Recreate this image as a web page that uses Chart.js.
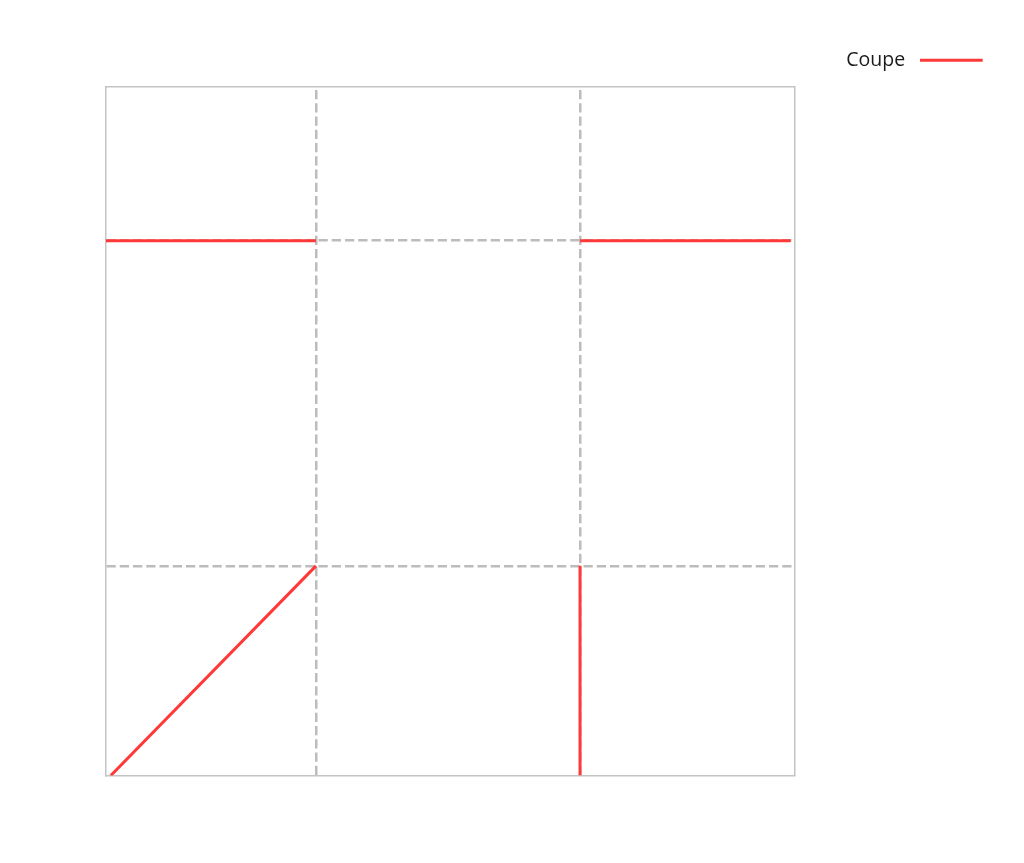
<!DOCTYPE html>
<html>
<head>
<meta charset="utf-8">
<title>Coupe</title>
<script src="https://cdn.jsdelivr.net/npm/chart.js@4.4.1/dist/chart.umd.min.js"></script>
<style>
  html, body { margin: 0; padding: 0; background: #fff; overflow: hidden; }
  canvas { display: block; }
</style>
</head>
<body>
<canvas id="myChart" width="1024" height="863"></canvas>
<script>
// section outline, segments split by nulls
const seriesName = 'Coupe';
const xValues = [0.7, 30.5, null, 0, 30.5, null, 68.85, 99.45, null, 68.85, 68.85];
const yValues = [0, 30.43, null, 77.63, 77.63, null, 77.63, 77.63, null, 30.43, 0];

// where the dashed guide lines sit
const xGridValues = [30.5, 68.85];
const yGridValues = [30.43, 77.63];

const FRAME = 'rgb(196,196,196)';
const GRID = 'rgb(188,188,188)';
const RED = 'rgb(255,56,56)';

const points = xValues.map((x, i) => ({x: x, y: yValues[i]}));

const data = {
  datasets: [
    {
      label: seriesName,
      data: points,
      showLine: true,
      spanGaps: false,
      borderColor: RED,
      backgroundColor: RED,
      borderWidth: 3,
      pointRadius: 0,
      pointHoverRadius: 0
    }
  ]
};

const config = {
  type: 'scatter',
  data: data,
  options: {
    responsive: false,
    animation: false,
    layout: {
      padding: {top: 40.5, right: 31.3, bottom: 87.5, left: 106}
    },
    scales: {
      x: {
        type: 'linear',
        position: 'bottom',
        min: 0,
        max: 100,
        afterBuildTicks: s => { s.ticks = xGridValues.map(v => ({value: v})); },
        ticks: {display: false},
        grid: {color: GRID, lineWidth: 2.5, drawTicks: false},
        // offset so the dashes start from the bottom edge
        border: {display: true, color: FRAME, width: 1.5, dash: [9.25, 4], dashOffset: 9.75}
      },
      y: {
        type: 'linear',
        position: 'left',
        min: 0,
        max: 100,
        afterBuildTicks: s => { s.ticks = yGridValues.map(v => ({value: v})); },
        ticks: {display: false},
        grid: {color: GRID, lineWidth: 2.5, drawTicks: false},
        border: {display: true, color: FRAME, width: 1.5, dash: [9.25, 4]}
      },
      // these two only close the frame and hold the space around it
      x2: {
        type: 'linear',
        position: 'top',
        ticks: {display: false},
        grid: {display: false, drawTicks: false},
        border: {display: true, color: FRAME, width: 1.5},
        afterFit: s => { s.height = 6.5; }
      },
      y2: {
        type: 'linear',
        position: 'right',
        ticks: {display: false},
        grid: {display: false, drawTicks: false},
        border: {display: true, color: FRAME, width: 1.5},
        afterFit: s => { s.width = 198.2; }
      }
    },
    plugins: {
      tooltip: {enabled: false},
      legend: {
        position: 'top',
        align: 'start',
        rtl: true,
        textDirection: 'ltr',
        labels: {
          usePointStyle: true,
          pointStyle: 'line',
          pointStyleWidth: 62.7,
          padding: 10,
          color: '#1a1a1a',
          font: {family: 'Open Sans', size: 19.5},
          generateLabels: chart =>
            Chart.defaults.plugins.legend.labels.generateLabels(chart)
              .map(item => Object.assign(item, {text: item.text + '\u00a0'}))
        }
      }
    }
  }
};

const myChart = new Chart(document.getElementById('myChart'), config);
</script>
</body>
</html>
